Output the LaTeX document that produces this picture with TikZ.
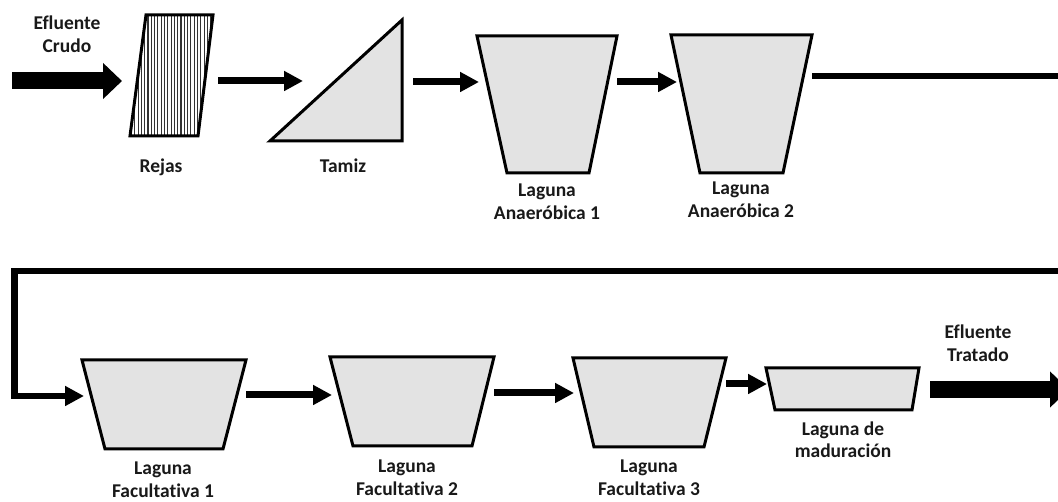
\documentclass[tikz,border=0pt]{standalone}
\usepackage{fontspec}
\setmainfont[Ligatures=NoCommon]{Carlito}
\usetikzlibrary{arrows.meta}
\begin{document}
\begin{tikzpicture}[x=1pt,y=-1pt,
  lagoon/.style={draw=black, line width=3pt, fill=black!11, line join=miter},
  pipe/.style={draw=black, line width=7pt, -{Triangle[length=19pt,width=19pt]}},
  bigflow/.style={draw=black, line width=17pt, -{Triangle[length=19pt,width=35pt]}},
  lbl/.style={font=\bfseries\fontsize{19.5}{23}\selectfont, align=center, anchor=base, inner sep=0pt, text=black!90},
]
\useasboundingbox (0,0) rectangle (1058,502);
\clip (0,0) rectangle (1058,502);

% ---------- first row ----------
% raw influent
\coordinate (rawin) at (12,81);
\coordinate (rejasin) at (122,81);
\node[lbl] (lraw) at (67,53) {Efluente\\Crudo};
\draw[bigflow] (rawin) -- (rejasin);

% bar screen (hatched parallelogram)
\begin{scope}
  \clip (146,15) -- (213,15) -- (198,136) -- (130,136) -- cycle;
  \fill[white] (120,10) rectangle (220,140);
  \foreach \x in {131.5,134.8,...,214} \draw[line width=1.1pt, black!80] (\x,10) -- (\x,140);
\end{scope}
\draw[line width=3pt, line join=miter] (146,15) -- (213,15) -- (198,136) -- (130,136) -- cycle;
\coordinate (rejasout) at (218,81);
\node[lbl] (lrejas) at (161,173) {Rejas};

% sieve
\draw[lagoon] (270,141) -- (402,141) -- (402,20) -- cycle;
\coordinate (tamizin) at (303,81);
\coordinate (tamizout) at (413,82);
\node[lbl] (ltamiz) at (343,173) {Tamiz};
\draw[pipe] (rejasout) -- (tamizin);

% anaerobic lagoon 1
\draw[lagoon] (477,36) -- (617,36) -- (589,173) -- (507,173) -- cycle;
\coordinate (an1in) at (479,82);
\coordinate (an1out) at (617,82);
\node[lbl] (lan1) at (547,220) {Laguna\\Anaeróbica 1};
\draw[pipe] (tamizout) -- (an1in);

% anaerobic lagoon 2
\draw[lagoon] (671,35) -- (812,35) -- (783,173) -- (700,173) -- cycle;
\coordinate (an2in) at (677,82);
\coordinate (an2out) at (812,76);
\node[lbl] (lan2) at (741,218) {Laguna\\Anaeróbica 2};
\draw[pipe] (an1out) -- (an2in);

% ---------- second row ----------
% facultative lagoon 1
\draw[lagoon] (82,360) -- (246,360) -- (223,449) -- (105,449) -- cycle;
\coordinate (fa1in) at (84,396);
\coordinate (fa1out) at (246,395);
\node[lbl] (lfa1) at (163,497.5) {Laguna\\Facultativa 1};

% return line from the first row
\coordinate (bendA) at (1075,76);
\coordinate (bendB) at (1075,271);
\coordinate (bendC) at (14.5,271);
\coordinate (bendD) at (14.5,396);
\draw[pipe, line width=6.5pt, line join=miter] (an2out) -- (bendA) -- (bendB) -- (bendC) -- (bendD) -- (fa1in);

% facultative lagoon 2
\draw[lagoon] (330,357) -- (494,357) -- (472,446) -- (353,446) -- cycle;
\coordinate (fa2in) at (332,395);
\coordinate (fa2out) at (494,393);
\node[lbl] (lfa2) at (407,495) {Laguna\\Facultativa 2};
\draw[pipe] (fa1out) -- (fa2in);

% facultative lagoon 3
\draw[lagoon] (573,358) -- (726,358) -- (704,447) -- (594,447) -- cycle;
\coordinate (fa3in) at (574,393);
\coordinate (fa3out) at (726,384);
\node[lbl] (lfa3) at (649,496) {Laguna\\Facultativa 3};
\draw[pipe] (fa2out) -- (fa3in);

% maturation lagoon
\draw[lagoon] (766,368) -- (919,368) -- (912,410) -- (775,410) -- cycle;
\coordinate (madin) at (767,384);
\node[lbl] (lmad) at (843,458) {Laguna de\\maduración};
\draw[pipe] (fa3out) -- (madin);

% treated effluent
\coordinate (tratout) at (930,389.5);
\coordinate (tratend) at (1069,389.5);
\node[lbl] (ltrat) at (978,362) {Efluente\\Tratado};
\draw[bigflow] (tratout) -- (tratend);
\end{tikzpicture}
\end{document}
